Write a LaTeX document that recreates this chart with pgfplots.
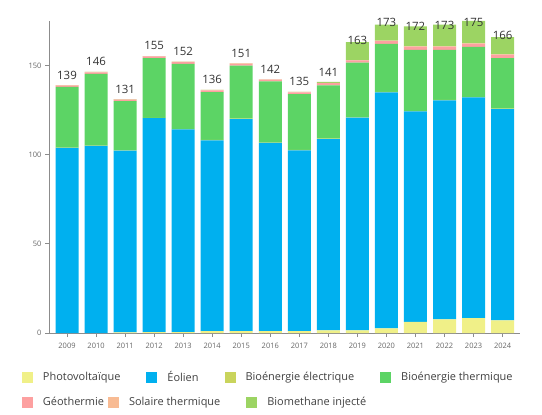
\documentclass[border=0pt]{standalone}
\usepackage{fontspec}
\setmainfont{Open Sans}
\usepackage{pgfplots}
\usepackage{pgfplotstable}
\pgfplotsset{compat=1.18}

\definecolor{cpv}{HTML}{F0F088}
\definecolor{ceol}{HTML}{00B0EF}
\definecolor{cbe}{HTML}{C9D45C}
\definecolor{cbt}{HTML}{5CD465}
\definecolor{cgeo}{HTML}{FDA0A0}
\definecolor{cst}{HTML}{F8BB93}
\definecolor{cbm}{HTML}{9CD463}
\definecolor{axgray}{HTML}{8C8C8C}
\definecolor{txgray}{HTML}{666666}

% production par filiere
\pgfplotstableread{
x    pv  eol   be  bt   geo st  bm   tot
2009 0   103.8 0.2 34.0 0.8 0.2 0.01 139
2010 0   104.9 0.2 40.3 0.8 0.2 0.01 146
2011 0.3 102.0 0.2 27.6 0.8 0.2 0.01 131
2012 0.5 120.0 0.2 33.5 0.9 0.2 0.01 155
2013 0.5 113.7 0.2 36.6 1.0 0.2 0.01 152
2014 1.0 107.1 0.2 26.8 1.0 0.2 0.01 136
2015 1.0 119.0 0.2 29.8 1.0 0.2 0.01 151
2016 1.0 105.6 0.2 34.3 1.0 0.2 0.01 142
2017 1.0 101.5 0.2 31.3 1.0 0.2 0.01 135
2018 1.5 107.3 0.2 29.9 1.2 0.2 0.5  141
2019 1.5 119.3 0.2 30.7 1.2 0.2 10.0 163
2020 2.6 132.4 0.2 27.0 1.5 0.3 9.0  173
2021 6.2 118.1 0.2 34.3 1.7 0.3 11.2 172
2022 7.6 122.9 0.2 28.1 1.7 0.3 12.2 173
2023 8.4 123.7 0.2 28.2 1.7 0.3 12.5 175
2024 7.1 118.5 0.2 28.4 1.8 0.3 9.7  166
}\datatable

\pgfplotsset{
  sqlegend/.style={
    legend image code/.code={\fill[##1] (0bp,-5.5bp) rectangle (11bp,5.5bp);},
    legend style={draw=none, fill=none, inner sep=0pt, outer sep=0pt,
      font=\fontsize{11}{13}\selectfont, text=black!75,
      nodes={inner sep=1bp},
      /tikz/every odd column/.append style={column sep=9bp},
      /tikz/every even column/.append style={column sep=25bp}},
  },
}

\begin{document}
\begin{tikzpicture}
\useasboundingbox (-49bp,-82bp) rectangle (493bp,333bp);
\begin{axis}[
  scale only axis, width=471bp, height=312bp,
  ybar stacked, bar width=23bp,
  xmin=2008.38, xmax=2024.6, ymin=0, ymax=175,
  xtick=data, ytick={0,50,100,150},
  axis x line=bottom, axis y line=left,
  axis line style={-, draw=axgray, line width=0.8bp},
  tick style={draw=axgray, line width=0.8bp},
  tick align=outside, major tick length=4bp,
  ticklabel style={font=\fontsize{7.5}{9}\selectfont, text=txgray},
  xticklabel style={yshift=-3bp},
  /pgf/number format/1000 sep={},
  /pgf/number format/assume math mode=true,
  every axis plot/.append style={draw=none},
  clip=false,
  sqlegend,
  legend columns=4,
  legend style={at={(0,0)}, anchor=west, xshift=-27bp, yshift=-44bp},
]
\addplot[fill=cpv] table[x=x, y=pv] {\datatable};
\addplot[fill=ceol] table[x=x, y=eol] {\datatable};
\addplot[fill=cbe] table[x=x, y=be] {\datatable};
\addplot[fill=cbt] table[x=x, y=bt] {\datatable};
\addplot[fill=cgeo] table[x=x, y=geo] {\datatable};
\addplot[fill=cst] table[x=x, y=st] {\datatable};
\addplot[fill=cbm, point meta=explicit,
  nodes near coords={\pgfmathprintnumber{\pgfplotspointmeta}},
  every node near coord/.append style={font=\fontsize{11.5}{13}\selectfont,
    text=black!80, anchor=south, yshift=2.5bp}]
  table[x=x, y=bm, meta=tot] {\datatable};
\legend{Photovoltaïque, Éolien, Bioénergie électrique, Bioénergie thermique}
\end{axis}
\begin{axis}[
  scale only axis, width=471bp, height=312bp,
  hide axis, xmin=0, xmax=1, ymin=0, ymax=1,
  sqlegend,
  legend columns=3,
  legend style={at={(0,0)}, anchor=west, xshift=-27bp, yshift=-69bp},
]
\addlegendimage{fill=cgeo, draw=none}
\addlegendentry{Géothermie\hspace*{-22bp}}
\addlegendimage{fill=cst, draw=none}
\addlegendentry{Solaire thermique}
\addlegendimage{fill=cbm, draw=none}
\addlegendentry{Biomethane injecté}
\end{axis}
\end{tikzpicture}
\end{document}
